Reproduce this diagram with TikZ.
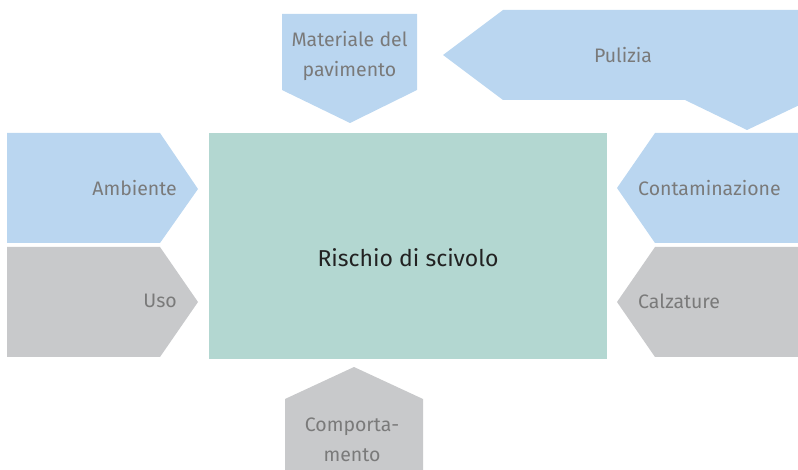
\documentclass[tikz,border=0pt]{standalone}
\usepackage{fontspec}
\setmainfont{Fira Sans}
\definecolor{blu}{HTML}{BAD6F0}
\definecolor{gri}{HTML}{C8C9CB}
\definecolor{verde}{HTML}{B3D7D1}
\definecolor{testo}{HTML}{7A7A7A}
\definecolor{scuro}{HTML}{222222}
\begin{document}
\begin{tikzpicture}[x=1pt,y=-1pt,
  lbl/.style={font=\fontsize{19.5}{30}\selectfont, text=testo, inner sep=0pt},
  bluefill/.style={fill=blu, draw=none},
  greyfill/.style={fill=gri, draw=none}]
\useasboundingbox (0,0) rectangle (798,470);
\begin{scope}
\clip (0,0) rectangle (798,470);
% central
\fill[verde] (209,133) rectangle (607,359);
% left
\path[bluefill] (7,133) -- (160,133) -- (198,189) -- (160,243) -- (7,243) -- cycle;
\path[greyfill] (7,247) -- (160,247) -- (198,302) -- (160,357) -- (7,357) -- cycle;
% right
\path[bluefill] (798,133) -- (655,133) -- (617,188) -- (655,243) -- (798,243) -- cycle;
\path[greyfill] (798,247) -- (655,247) -- (617,302) -- (655,357) -- (798,357) -- cycle;
% top
\path[bluefill] (282,14) -- (417,14) -- (417,90) -- (350,123) -- (282,90) -- cycle;
\path[bluefill] (443,55) -- (503,10) -- (810,10) -- (810,100) -- (747,130) -- (685,100) -- (503,100) -- cycle;
% bottom
\path[greyfill] (285,399) -- (354,367) -- (423,399) -- (423,480) -- (285,480) -- cycle;
\end{scope}
\node[lbl, align=center] (mat) at (349.5,56) {Materiale del\\pavimento};
\node[lbl] (pul) at (623,55) {Pulizia};
\node[lbl, anchor=east] (amb) at (177,188) {Ambiente};
\node[lbl, anchor=east] (uso) at (177,301) {Uso};
\node[lbl, anchor=west] (con) at (638,188) {Contaminazione};
\node[lbl, anchor=west] (cal) at (638,301) {Calzature};
\node[lbl, align=center] (com) at (352,440) {Comporta-\\mento};
\node[font=\fontsize{23}{26}\selectfont, text=scuro, inner sep=0pt] (ris) at (408,258) {Rischio di scivolo};
\end{tikzpicture}
\end{document}
